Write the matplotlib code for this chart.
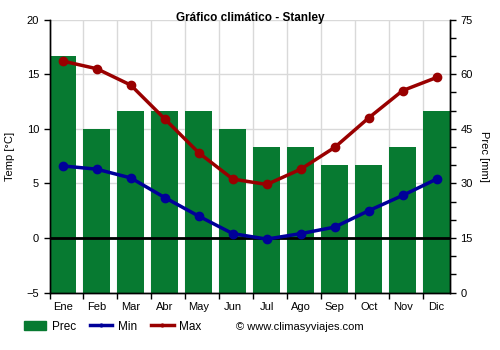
import numpy as np
import matplotlib.pyplot as plt
from matplotlib.lines import Line2D
import matplotlib.patches as mpatches

months = ["Ene", "Feb", "Mar", "Abr", "May", "Jun", "Jul", "Ago", "Sep", "Oct", "Nov", "Dic"]
prec = [65, 45, 50, 50, 50, 45, 40, 40, 35, 35, 40, 50]
t_max = [16.2, 15.5, 14.0, 10.9, 7.8, 5.4, 4.9, 6.3, 8.3, 11.0, 13.5, 14.7]
t_min = [6.6, 6.3, 5.5, 3.7, 2.0, 0.4, -0.1, 0.4, 1.0, 2.5, 3.9, 5.4]

GREEN = "#077a31"
RED = "#990000"
BLUE = "#000099"

plt.rcParams["font.family"] = ["Liberation Sans", "DejaVu Sans"]

fig = plt.figure(figsize=(5, 3.5), dpi=100)
ax = fig.add_axes([0.099, 0.164, 0.801, 0.78])
ax2 = ax.twinx()

bw = 0.785
x = np.arange(len(months))
xc = x + bw / 2

# ######## # Precipitation bars (right axis)
ax2.bar(x, prec, width=bw, align="edge", color=GREEN, zorder=2)
ax2.set_ylim(0, 75)
ax2.set_yticks(np.arange(0, 76, 5))
ax2.set_yticklabels([str(v) if v % 15 == 0 else "" for v in range(0, 76, 5)])
ax2.set_ylabel("Prec [mm]", rotation=-90, labelpad=12, fontsize=8)

# ######## # Temperatures (left axis, drawn on top)
ax.set_zorder(ax2.get_zorder() + 1)
ax.patch.set_visible(False)
ax.axhline(0, color="black", lw=2, zorder=3)
ax.plot(xc, t_min, color=BLUE, lw=2.5, marker="o", ms=6, zorder=5)
ax.plot(xc, t_max, color=RED, lw=2.5, marker="o", ms=6, zorder=5)
ax.set_ylim(-5, 20)
ax.set_yticks(np.arange(-5, 21, 5))
ax.set_ylabel("Temp [°C]", fontsize=8, labelpad=8)
ax.set_xlim(0, len(months) - 1 + bw)
ax.set_xticks(x)
ax.set_xticklabels([])
for xi, m in zip(xc, months):
    ax.text(xi, -5.9, m, ha="center", va="top", fontsize=8)

# grid is drawn on ax2 so it stays behind the bars
ax2.set_xticks(x)
for xi in x[1:]:
    ax2.axvline(xi, color="#d9d9d9", lw=1, zorder=0)
for t in range(0, 76, 15):
    ax2.axhline(t, color="#d9d9d9", lw=1, zorder=0)

for a in (ax, ax2):
    a.tick_params(labelsize=8, length=4, width=1)
    for s in a.spines.values():
        s.set_linewidth(1)
ax.spines["top"].set_visible(False)
ax2.spines["top"].set_visible(False)

fig.text(0.5, 1 - 17.5 / 350, "Gráfico climático - Stanley", fontsize=8.5,
         fontweight="bold", ha="center", va="center")

handles = [
    mpatches.Patch(color=GREEN, label="Prec"),
    Line2D([], [], color=BLUE, lw=2.5, marker="o", ms=2, label="Min"),
    Line2D([], [], color=RED, lw=2.5, marker="o", ms=2, label="Max"),
]
fig.legend(handles=handles, loc="center left", bbox_to_anchor=(0.048, 23.5 / 350), ncol=3,
           frameon=False, fontsize=8.5, handlelength=1.9, columnspacing=1.2,
           handletextpad=0.45, borderpad=0, borderaxespad=0)
fig.text(0.472, 23.5 / 350, "© www.climasyviajes.com", fontsize=8, va="center")

fig.savefig("out.png", dpi=100)
